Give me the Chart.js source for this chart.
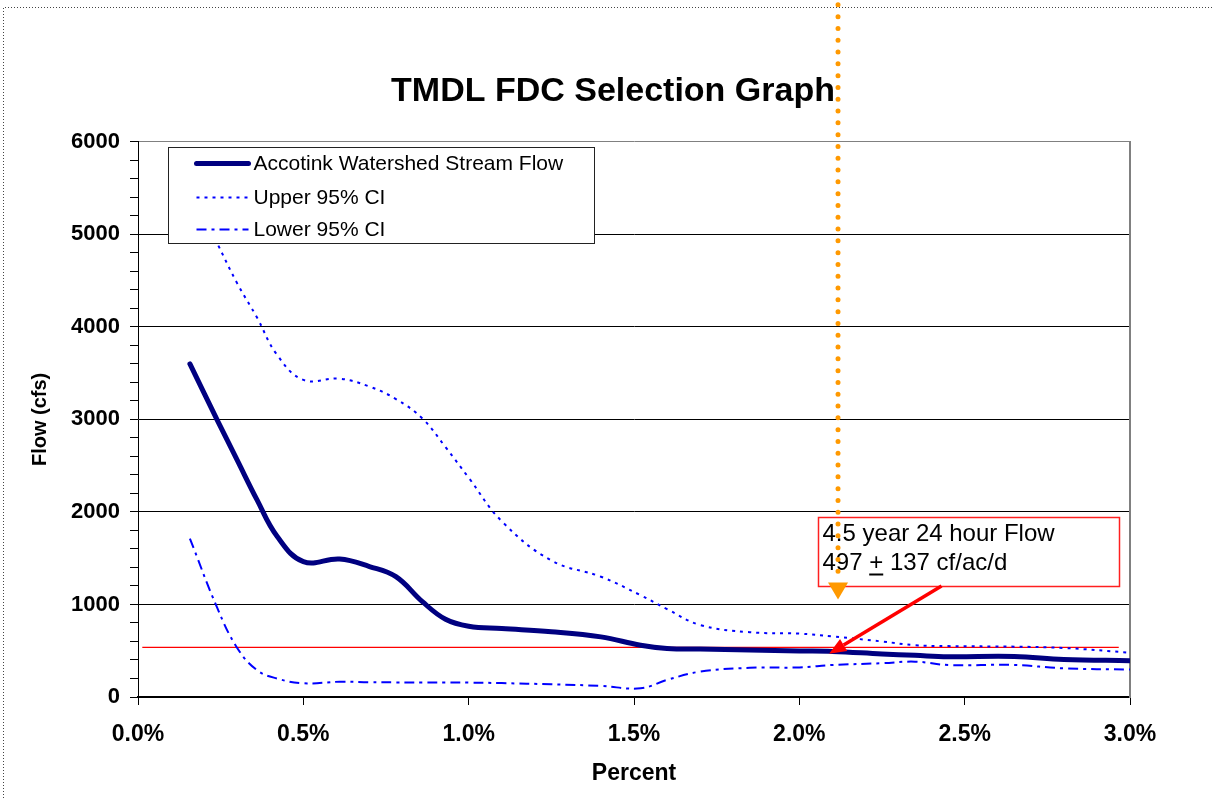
<!DOCTYPE html>
<html>
<head>
<meta charset="utf-8">
<style>
  html, body { margin: 0; padding: 0; background: #fff; }
  #wrap { position: relative; width: 1213px; height: 798px; }
</style>
<script src="https://cdn.jsdelivr.net/npm/chart.js@4.4.1/dist/chart.umd.min.js"></script>
</head>
<body>
<div id="wrap"><canvas id="fdc"></canvas></div>
<script>
// values (x in percent, y in cfs)
const percent    = [0.157, 0.24, 0.30, 0.36, 0.42, 0.50, 0.61, 0.70, 0.78, 0.86, 0.93, 1.00, 1.10, 1.25, 1.40, 1.52, 1.60, 1.70, 1.85, 2.00, 2.10, 2.25, 2.35, 2.45, 2.65, 2.80, 3.00];
const streamFlow = [3600, 2990, 2560, 2130, 1740, 1463, 1491, 1410, 1300, 1030, 840, 765, 740, 706, 650, 560, 525, 518, 508, 498, 493, 465, 450, 436, 438, 405, 393];
const upperCI    = [5500, 4900, 4470, 4100, 3700, 3427, 3440, 3355, 3220, 3010, 2700, 2370, 1900, 1475, 1300, 1100, 950, 778, 700, 685, 655, 600, 560, 550, 544, 530, 479];
const lowerCI    = [1712, 960, 530, 290, 200, 148, 165, 160, 158, 157, 158, 156, 150, 137, 120, 94, 185, 274, 315, 320, 346, 365, 382, 346, 346, 310, 296];

const seriesNames = ['Accotink Watershed Stream Flow', 'Upper 95% CI', 'Lower 95% CI'];

// selected flow reference line
const refFlow = 537;
const refFrom = 0.013;
const refTo = 2.966;

// annotation: box, arrow, orange marker (data units)
const noteLines = ['4.5 year 24 hour Flow', '497 ', '+', ' 137 cf/ac/d'];
const noteBox = { x0: 2.056, x1: 2.966, yTop: 1942, yBottom: 1200 };
const arrowTail = { x: 2.43, y: 1200 };
const arrowTip = { x: 2.09, y: 468 };
const marker = { x: 2.117, yTop: 7480, yEnd: 1360, yTip: 1055 };

const pts = (ys) => percent.map((x, i) => ({ x: x, y: ys[i] }));

const frame = {
  id: 'frame',
  beforeDraw(chart) {
    const ctx = chart.ctx;
    ctx.save();
    ctx.fillStyle = '#fff';
    ctx.fillRect(0, 0, chart.width, chart.height);
    ctx.strokeStyle = '#444';
    ctx.lineWidth = 1;
    ctx.setLineDash([1, 2]);
    ctx.beginPath();
    ctx.moveTo(3.5, chart.height);
    ctx.lineTo(3.5, 7.5);
    ctx.lineTo(chart.width, 7.5);
    ctx.stroke();
    ctx.restore();
  }
};

const extras = {
  id: 'extras',
  afterDraw(chart) {
    const ctx = chart.ctx;
    const xs = chart.scales.x, ys = chart.scales.y;
    const area = chart.chartArea;
    const font = "'Liberation Sans', Arial, sans-serif";
    ctx.save();

    // legend box
    const lx = Math.round(area.left + 30) + 0.5, ly = Math.round(area.top + 5) + 0.5;
    ctx.fillStyle = '#fff';
    ctx.fillRect(lx, ly, 426, 96);
    ctx.strokeStyle = '#222';
    ctx.lineWidth = 1;
    ctx.strokeRect(lx, ly, 426, 96);
    const rows = [16, 50, 82];
    chart.data.datasets.slice(0, 3).forEach((ds, i) => {
      const yy = ly + rows[i];
      ctx.beginPath();
      ctx.strokeStyle = ds.borderColor;
      ctx.lineWidth = ds.borderWidth;
      ctx.lineCap = i === 0 ? 'round' : 'butt';
      ctx.setLineDash(ds.borderDash || []);
      ctx.moveTo(lx + 28, yy);
      ctx.lineTo(lx + 80, yy);
      ctx.stroke();
      ctx.setLineDash([]);
      ctx.fillStyle = '#000';
      ctx.font = '21px ' + font;
      ctx.textBaseline = 'middle';
      ctx.fillText(ds.label, lx + 85, yy + 1);
    });

    // annotation box
    const bx0 = Math.round(xs.getPixelForValue(noteBox.x0)) + 0.5;
    const bx1 = Math.round(xs.getPixelForValue(noteBox.x1)) + 0.5;
    const by0 = Math.round(ys.getPixelForValue(noteBox.yTop)) + 0.5;
    const by1 = Math.round(ys.getPixelForValue(noteBox.yBottom)) + 0.5;
    ctx.fillStyle = '#fff';
    ctx.fillRect(bx0, by0, bx1 - bx0, by1 - by0);
    ctx.strokeStyle = '#ff2020';
    ctx.lineWidth = 1.5;
    ctx.strokeRect(bx0, by0, bx1 - bx0, by1 - by0);
    ctx.fillStyle = '#000';
    ctx.font = '24px ' + font;
    ctx.textBaseline = 'alphabetic';
    ctx.fillText(noteLines[0], bx0 + 4, by0 + 23);
    let tx = bx0 + 4;
    ctx.fillText(noteLines[1], tx, by0 + 52);
    tx += ctx.measureText(noteLines[1]).width;
    ctx.fillText(noteLines[2], tx, by0 + 52);
    const pw = ctx.measureText(noteLines[2]).width;
    ctx.fillRect(tx, by0 + 56, pw, 2);
    tx += pw;
    ctx.fillText(noteLines[3], tx, by0 + 52);

    // red arrow
    const ax0 = xs.getPixelForValue(arrowTail.x), ay0 = ys.getPixelForValue(arrowTail.y);
    const ax1 = xs.getPixelForValue(arrowTip.x), ay1 = ys.getPixelForValue(arrowTip.y);
    const ang = Math.atan2(ay1 - ay0, ax1 - ax0);
    const hl = 17, hw = 7;
    const bxp = ax1 - hl * Math.cos(ang), byp = ay1 - hl * Math.sin(ang);
    ctx.strokeStyle = '#ff0000';
    ctx.fillStyle = '#ff0000';
    ctx.lineWidth = 3.5;
    ctx.beginPath();
    ctx.moveTo(ax0, ay0);
    ctx.lineTo(bxp, byp);
    ctx.stroke();
    ctx.beginPath();
    ctx.moveTo(ax1, ay1);
    ctx.lineTo(bxp + hw * Math.sin(ang), byp - hw * Math.cos(ang));
    ctx.lineTo(bxp - hw * Math.sin(ang), byp + hw * Math.cos(ang));
    ctx.closePath();
    ctx.fill();

    // orange dotted marker
    const mx = xs.getPixelForValue(marker.x);
    const my0 = ys.getPixelForValue(marker.yTop);
    const my1 = ys.getPixelForValue(marker.yEnd);
    const mt = ys.getPixelForValue(marker.yTip);
    ctx.strokeStyle = '#ff9900';
    ctx.fillStyle = '#ff9900';
    ctx.lineWidth = 5;
    ctx.lineCap = 'round';
    ctx.setLineDash([0, 11.8]);
    ctx.beginPath();
    ctx.moveTo(mx, my0);
    ctx.lineTo(mx, my1 + 8);
    ctx.stroke();
    ctx.setLineDash([]);
    ctx.beginPath();
    ctx.moveTo(mx - 10, mt - 17);
    ctx.lineTo(mx + 10, mt - 17);
    ctx.lineTo(mx, mt);
    ctx.closePath();
    ctx.fill();

    ctx.restore();
  }
};

Chart.defaults.font.family = "'Liberation Sans', Arial, sans-serif";
Chart.defaults.color = '#000';

const ctx = document.getElementById('fdc').getContext('2d');
const chart = new Chart(ctx, {
  type: 'line',
  data: {
    datasets: [{
        label: seriesNames[0],
        data: pts(streamFlow),
        borderColor: '#000080',
        borderWidth: 5,
        borderCapStyle: 'round',
        borderJoinStyle: 'round',
        pointRadius: 0,
        tension: 0.4,
        fill: false,
      },
      {
        label: seriesNames[1],
        data: pts(upperCI),
        borderColor: '#0000ff',
        borderWidth: 2,
        borderDash: [3, 5],
        pointRadius: 0,
        tension: 0.4,
        fill: false,
      }, {
        label: seriesNames[2],
        data: pts(lowerCI),
        borderColor: '#0000ff',
        borderWidth: 2,
        borderDash: [10, 5, 3, 5],
        pointRadius: 0,
        tension: 0.4,
        fill: false,
      }, {
        label: 'Selected flow',
        data: [{ x: refFrom, y: refFlow }, { x: refTo, y: refFlow }],
        borderColor: '#ff0000',
        borderWidth: 1.3,
        pointRadius: 0,
        fill: false,
      }
    ]
  },
  options: {
    responsive: true,
    maintainAspectRatio: false,
    animation: false,
    parsing: false,
    layout: { padding: { left: 13, right: 0, top: 0, bottom: 0 } },
    plugins: {
      legend: { display: false },
      tooltip: { enabled: false },
      title: {
        display: true,
        text: 'TMDL FDC Selection Graph',
        font: { size: 34, weight: 'bold', lineHeight: 1.2 },
        color: '#000',
        padding: { top: 71, bottom: 30 }
      }
    },
    scales: {
      x: {
        type: 'linear',
        position: 'bottom',
        min: 0,
        max: 3,
        ticks: {
          stepSize: 0.5,
          padding: 16,
          font: { size: 23, weight: 'bold' },
          callback: (v) => v.toFixed(1) + '%'
        },
        grid: { drawOnChartArea: false, tickLength: 8, color: '#000' },
        border: { color: '#000', width: 1.5 },
        title: {
          display: true,
          text: 'Percent',
          font: { size: 23, weight: 'bold', lineHeight: 1.2 },
          padding: { top: 0, bottom: 11 }
        },
        afterFit: (s) => { s.height = 101; }
      },
      y: {
        type: 'linear',
        position: 'left',
        min: 0,
        max: 6000,
        ticks: {
          stepSize: 200,
          autoSkip: false,
          padding: 10,
          font: { size: 22, weight: 'bold' },
          callback: (v) => (v % 1000 === 0 ? v : '')
        },
        grid: {
          tickLength: 8,
          tickColor: '#000',
          color: (c) => {
            if (!c.tick) return 'rgba(0,0,0,0)';
            if (c.tick.value === 6000) return '#808080';
            return c.tick.value % 1000 === 0 ? '#000' : 'rgba(0,0,0,0)';
          }
        },
        border: { color: '#000', width: 1 },
        title: {
          display: true,
          text: 'Flow (cfs)',
          font: { size: 20, weight: 'bold', lineHeight: 1.2 },
          padding: { top: 15, bottom: 0 }
        },
        afterFit: (s) => { s.width = 125; }
      },
      y2: {
        type: 'linear',
        position: 'right',
        grid: { display: false },
        ticks: { display: false },
        border: { display: true, color: '#808080', width: 2 },
        afterFit: (s) => { s.width = 83; }
      }
    }
  },
  plugins: [frame, extras]
});
</script>
</body>
</html>
